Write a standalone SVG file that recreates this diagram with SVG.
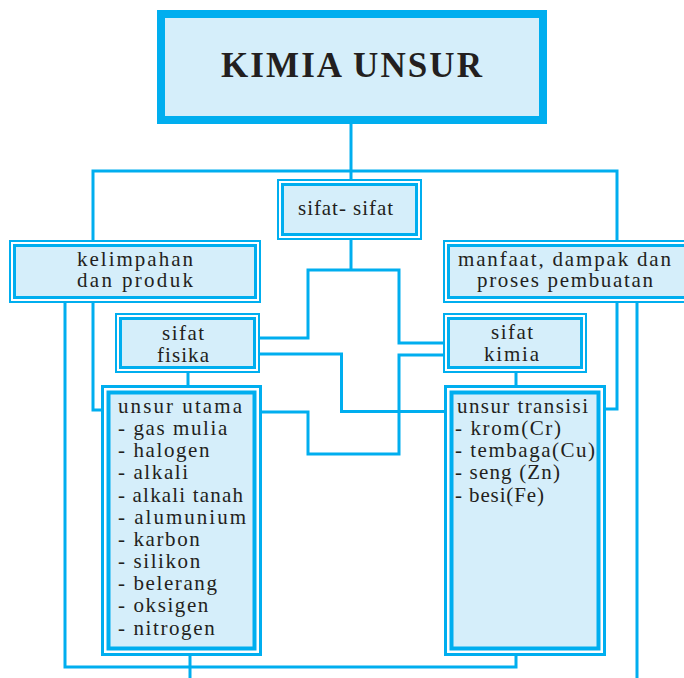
<svg xmlns="http://www.w3.org/2000/svg" width="684" height="678" viewBox="0 0 684 678">
<style>
.c{fill:none;stroke:#00AEEF;stroke-width:3}
.o{fill:#fff;stroke:#00AEEF;stroke-width:2}
.i{fill:#D5EEFA;stroke:#00AEEF;stroke-width:3}
.ob{fill:#fff;stroke:#00AEEF;stroke-width:3}
.ib{fill:#D5EEFA;stroke:#00AEEF;stroke-width:4}
text{font-family:"Liberation Serif","Times New Roman",serif;font-size:21px;fill:#231F20}
.ls{letter-spacing:1.6px}
.t{font-size:35px;font-weight:bold}
</style>
<rect width="684" height="678" fill="#fff"/>
<g id="connectors">
<path class="c" d="M351 124V179"/>
<path class="c" d="M93 240V171H617V240"/>
<path class="c" d="M351 240V270"/>
<path class="c" d="M260 338H308V270H399V343H443"/>
<path class="c" d="M260 354H341.5V411.5H444"/>
<path class="c" d="M262 412H308V454H399V355H443"/>
<path class="c" d="M65 303V667H516V656"/>
<path class="c" d="M190 656V678"/>
<path class="c" d="M93 303V410H101"/>
<path class="c" d="M188 373V385"/>
<path class="c" d="M516 373V385"/>
<path class="c" d="M617 303V409H606"/>
<path class="c" d="M637 303V678"/>
</g>
<g id="kimia-unsur">
<rect x="161" y="14" width="382" height="106" fill="#D5EEFA" stroke="#00AEEF" stroke-width="8"/>
<text class="t" x="221" y="77" textLength="261" lengthAdjust="spacing">KIMIA UNSUR</text>
</g>
<g id="sifat-sifat">
<rect class="o" x="278" y="180" width="143" height="59"/>
<rect class="i" x="282.5" y="184.5" width="134" height="50"/>
<text x="298" y="215" textLength="95" lengthAdjust="spacing">sifat- sifat</text>
</g>
<g id="kelimpahan">
<rect class="o" x="10" y="241" width="250" height="61"/>
<rect class="i" x="14.5" y="245.5" width="241" height="52"/>
<text x="77" y="266" textLength="116" lengthAdjust="spacing">kelimpahan</text>
<text x="77" y="287" textLength="116" lengthAdjust="spacing">dan produk</text>
</g>
<g id="manfaat">
<rect class="o" x="444" y="241" width="250" height="61"/>
<rect class="i" x="448.5" y="245.5" width="241" height="52"/>
<text x="458" y="266" textLength="213" lengthAdjust="spacing">manfaat, dampak dan</text>
<text x="477" y="287" textLength="176" lengthAdjust="spacing">proses pembuatan</text>
</g>
<g id="sifat-fisika">
<rect class="o" x="116" y="314" width="143" height="58"/>
<rect class="i" x="120.5" y="318.5" width="134" height="49"/>
<text x="162" y="340" textLength="42" lengthAdjust="spacing">sifat</text>
<text x="157" y="362" textLength="52" lengthAdjust="spacing">fisika</text>
</g>
<g id="sifat-kimia">
<rect class="o" x="444" y="314" width="142" height="58"/>
<rect class="i" x="448.5" y="318.5" width="133" height="49"/>
<text x="491" y="339" textLength="42" lengthAdjust="spacing">sifat</text>
<text x="484" y="361" textLength="55" lengthAdjust="spacing">kimia</text>
</g>
<g id="unsur-utama">
<rect class="ob" x="102.5" y="386.5" width="158" height="268"/>
<rect class="ib" x="108.5" y="392.5" width="146" height="256"/>
<text x="118" y="413" textLength="124" lengthAdjust="spacing">unsur utama</text>
<text class="ls" x="118" y="435">- gas mulia</text>
<text class="ls" x="118" y="457">- halogen</text>
<text class="ls" x="118" y="479">- alkali</text>
<text x="118" y="502" textLength="125" lengthAdjust="spacing">- alkali tanah</text>
<text x="118" y="524" textLength="128" lengthAdjust="spacing">- alumunium</text>
<text class="ls" x="118" y="546">- karbon</text>
<text class="ls" x="118" y="568">- silikon</text>
<text class="ls" x="118" y="590">- belerang</text>
<text class="ls" x="118" y="612">- oksigen</text>
<text class="ls" x="118" y="635">- nitrogen</text>
</g>
<g id="unsur-transisi">
<rect class="ob" x="445.5" y="386.5" width="159" height="268"/>
<rect class="ib" x="451.5" y="392.5" width="147" height="256"/>
<text x="457" y="413" textLength="131" lengthAdjust="spacing">unsur transisi</text>
<text class="ls" x="455" y="435">- krom(Cr)</text>
<text x="455" y="457" textLength="140" lengthAdjust="spacing">- tembaga(Cu)</text>
<text x="455" y="479" textLength="105" lengthAdjust="spacing">- seng (Zn)</text>
<text x="455" y="502" textLength="89" lengthAdjust="spacing">- besi(Fe)</text>
</g>
</svg>
